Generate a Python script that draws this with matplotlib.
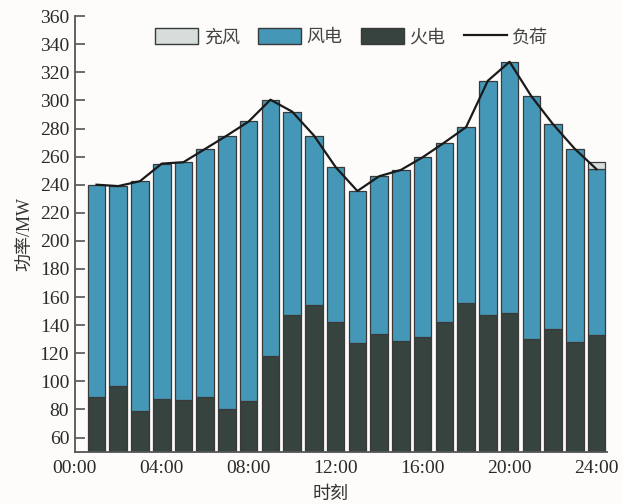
import matplotlib
matplotlib.use('Agg')
import matplotlib.pyplot as plt
import numpy as np
from matplotlib.lines import Line2D
from matplotlib.patches import Patch

plt.rcParams['font.family'] = ['Liberation Serif', 'Noto Sans CJK SC']

# hourly dispatch, MW
hours = list(range(1, 25))
thermal = [89, 96.5, 79, 87.5, 87, 89, 80, 86, 118, 147, 154, 142,
           127, 133.5, 128.5, 131.5, 142, 156, 147, 148.5, 130.5, 137, 128, 133]
wind = [151, 142.5, 163.5, 167.5, 169, 176.5, 195, 199, 182.5, 145, 121, 110.5,
        108.5, 112.5, 122, 128, 128, 125, 167, 179, 172.5, 146, 137.5, 118]
charge = [0] * 23 + [5]
load = [240, 239, 242.5, 255, 256, 265.5, 275, 285, 300.5, 292, 275, 252.5,
        235.5, 246, 250.5, 259.5, 270, 281, 314, 327.5, 303, 283, 265.5, 251]
xtick_pos = [0, 4, 8, 12, 16, 20, 24]
xtick_labels = ['00:00', '04:00', '08:00', '12:00', '16:00', '20:00', '24:00']

c_thermal = '#36433f'
c_wind = '#4597b7'
c_charge = '#d6dddb'
edge = '#3a3a3a'

fig = plt.figure(figsize=(6.23, 5.04), dpi=100, facecolor='#fdfcfa')
ax = fig.add_axes([0.120, 0.104, 0.855, 0.864])
ax.set_facecolor('#fdfcfa')

x = np.array(hours)
th = np.array(thermal)
wd = np.array(wind)
ax.bar(x, th, width=0.81, color=c_thermal, edgecolor=edge, linewidth=0.9, zorder=2)
ax.bar(x, wd, width=0.81, bottom=th, color=c_wind, edgecolor=edge, linewidth=0.9, zorder=2)
ch = np.array(charge)
m = ch > 0
ax.bar(x[m], ch[m], width=0.81, bottom=(th + wd)[m], color=c_charge,
       edgecolor=edge, linewidth=0.9, zorder=2)
ax.plot(x, load, color='#1a1a1a', linewidth=1.6, zorder=3)

ax.set_xlim(0, 24.5)
ax.set_ylim(50, 360)
ax.set_yticks(range(60, 361, 20))
ax.set_xticks(xtick_pos)
ax.set_xticklabels(xtick_labels)
ax.set_xticks(hours, minor=True)

for s in ['top', 'right']:
    ax.spines[s].set_visible(False)
for s in ['left', 'bottom']:
    ax.spines[s].set_color('#555555')
    ax.spines[s].set_linewidth(1.3)

ax.tick_params(axis='y', direction='in', length=7, width=1.2, color='#555555',
               labelsize=14, labelcolor='#2a2a2a', pad=4)
ax.tick_params(axis='x', which='both', direction='in', length=4, width=1.2,
               color='#333333', labelsize=14, labelcolor='#2a2a2a', pad=6)
ax.tick_params(axis='x', which='major', length=0)

ax.set_ylabel('功率/MW', fontsize=13, color='#333333', labelpad=4)
ax.set_xlabel('时刻', fontsize=13, color='#333333', labelpad=2)
ax.xaxis.set_label_coords(0.48, -0.078)

handles = [Patch(facecolor=c_charge, edgecolor=edge, linewidth=1.0),
           Patch(facecolor=c_wind, edgecolor=edge, linewidth=1.0),
           Patch(facecolor=c_thermal, edgecolor=edge, linewidth=1.0),
           Line2D([0], [0], color='#1a1a1a', linewidth=1.6)]
ax.legend(handles, ['充风', '风电', '火电', '负荷'], loc='upper center',
          bbox_to_anchor=(0.52, 1.01), ncol=4, frameon=False, fontsize=13,
          handlelength=2.4, handleheight=1.0, handletextpad=0.3, columnspacing=1.0,
          labelcolor='#444444')

fig.savefig('out.png', dpi=100, facecolor=fig.get_facecolor())
